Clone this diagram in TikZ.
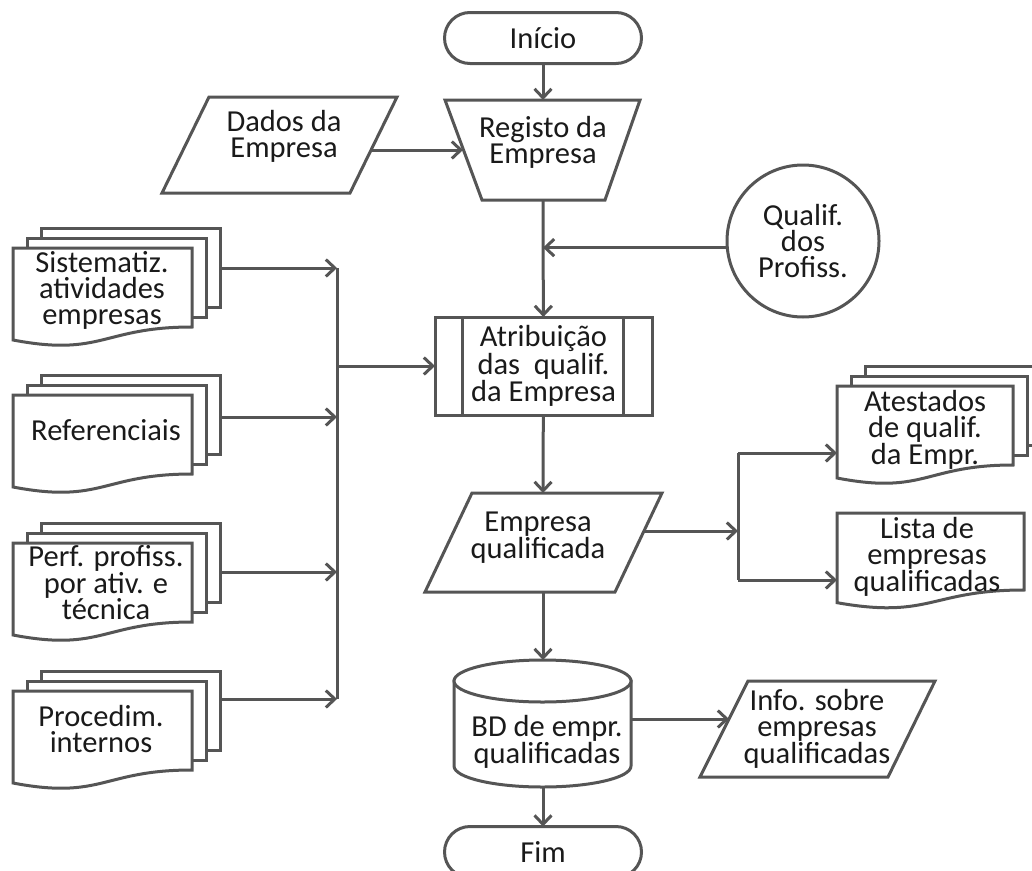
\documentclass[tikz,border=0pt]{standalone}
\usepackage{fontspec}
\setmainfont{Carlito}
\usetikzlibrary{shapes.misc, calc, arrows.meta}

\definecolor{linegray}{HTML}{555555}
\definecolor{textgray}{HTML}{1A1A1A}

\newcommand{\docshape}[4]{%
    \draw[box] (#1,#2) -- ({#1+#3},#2) -- ({#1+#3},{#2+0.802*#4})
        .. controls ({#1+0.5*#3},{#2+0.802*#4}) and ({#1+0.5*#3},{#2+1.107*#4}) .. (#1,{#2+0.934*#4})
        -- cycle;}
\newcommand{\multidoc}[4]{%
    \draw[box] ({#1+28},{#2-20}) rectangle ({#1+#3+28},{#2-20+0.802*#4});
    \draw[box] ({#1+14},{#2-10}) rectangle ({#1+#3+14},{#2-10+0.802*#4});
    \docshape{#1}{#2}{#3}{#4}}

\begin{document}
\begin{tikzpicture}[>={Straight Barb[length=9pt,width=17pt]}, x=1pt, y=-1pt]
    \tikzset{
        box/.style={draw=linegray, fill=white, line width=3pt, outer sep=0pt},
        txt/.style={text=textgray, font=\fontsize{30.5}{26}\selectfont, align=center, inner sep=0pt},
        term/.style={box, txt, rounded rectangle, minimum width=197pt, minimum height=51pt},
        wire/.style={draw=linegray, line width=3pt},
        arr/.style={wire, ->}
    }
    \useasboundingbox (0,0) rectangle (1032,870);

    % main column
    \node[term] (inicio) at (543,38) {Início};
    \node[term] (fim) at (543,852) {Fim};

    \draw[box] (445,100) -- (640,100) -- (605,200) -- (482,200) -- cycle;
    \coordinate (reg-n) at (543,100);
    \coordinate (reg-s) at (543,200);
    \coordinate (reg-w) at (463,150);
    \node[txt] (registo) at (543,142) {Registo da\\Empresa};

    \draw[box] (209,97) -- (397,97) -- (350,193) -- (162,193) -- cycle;
    \coordinate (dados-e) at (371,150);
    \node[txt] (dados) at (284,136) {Dados da\\Empresa};

    \node[box, txt, circle, minimum size=152pt] (qualif) at (803,241) {Qualif.\\dos\\Profiss.};

    \node[box, txt, minimum width=217pt, minimum height=98pt] (atrib) at (543.5,366)
        {Atribuição\\das\ \ qualif.\\da Empresa};
    \draw[wire] ($(atrib.north west)+(27,0)$) -- ($(atrib.south west)+(27,0)$);
    \draw[wire] ($(atrib.north east)+(-29,0)$) -- ($(atrib.south east)+(-29,0)$);

    \draw[box] (472,493) -- (662,493) -- (615,592) -- (425,592) -- cycle;
    \coordinate (emp-n) at (543,493);
    \coordinate (emp-s) at (543,592);
    \coordinate (emp-e) at (644,531);
    \node[txt] (empresa) at (538,538) {Empresa\\qualificada};

    % database
    \draw[box] (454,681) -- (454,766)
        .. controls (454,777.6) and (493.6,787) .. (542.5,787)
        .. controls (591.4,787) and (631,777.6) .. (631,766) -- (631,681) -- cycle;
    \draw[box] (542.5,681) ellipse [x radius=88.5pt, y radius=21pt];
    \coordinate (bd-n) at (543,660);
    \coordinate (bd-s) at (543,787);
    \coordinate (bd-e) at (631,719);
    \node[txt] (bd) at (547,742) {BD de empr.\\qualificadas};

    \draw[box] (748,681) -- (935,681) -- (888,777) -- (700,777) -- cycle;
    \coordinate (info-w) at (729,719);
    \node[txt] (info) at (817,729) {Info. sobre\\empresas\\qualificadas};

    % outputs
    \multidoc{837}{386}{176}{98.5}
    \node[txt] (atest) at (925,430) {Atestados\\de qualif.\\da Empr.};
    \docshape{837}{513}{187}{96}
    \node[txt] (lista) at (927,557) {Lista de\\empresas\\qualificadas};
    \coordinate (atest-in) at (837,453);
    \coordinate (lista-in) at (837,580);
    \coordinate (split) at (738,531);

    % inputs
    \multidoc{13}{248}{179}{98.5}
    \node[txt] (sist) at (102,290) {Sistematiz.\\atividades\\empresas};
    \multidoc{13}{395}{179}{98.5}
    \node[txt] (refer) at (106,430) {Referenciais};
    \multidoc{13}{543}{179}{98.5}
    \node[txt] (perf) at (106,583) {Perf. profiss.\\por ativ. e\\técnica};
    \multidoc{13}{691}{179}{98.5}
    \node[txt] (proced) at (101,729) {Procedim.\\internos};
    \coordinate (sist-out) at (220,268);
    \coordinate (refer-out) at (220,417);
    \coordinate (perf-out) at (220,572);
    \coordinate (proced-out) at (220,699);
    \coordinate (bus) at (337,366);

    % connectors
    \draw[arr] (inicio) -- (reg-n);
    \draw[arr] (dados-e) -- (reg-w);
    \draw[arr] (reg-s) -- (atrib);
    \draw[arr] (qualif.185) -- (qualif.185 -| reg-s);
    \foreach \src in {sist-out, refer-out, perf-out, proced-out}
        \draw[arr] (\src) -- (\src -| bus);
    \draw[wire] (bus |- sist-out) -- (bus |- proced-out);
    \draw[arr] (bus) -- (atrib);
    \draw[arr] (atrib) -- (emp-n);
    \draw[arr] (emp-e) -- (split);
    \draw[wire] (split |- atest-in) -- (split |- lista-in);
    \draw[arr] (split |- atest-in) -- (atest-in);
    \draw[arr] (split |- lista-in) -- (lista-in);
    \draw[arr] (emp-s) -- (bd-n);
    \draw[arr] (bd-e) -- (info-w);
    \draw[arr] (bd-s) -- (fim);
\end{tikzpicture}
\end{document}
